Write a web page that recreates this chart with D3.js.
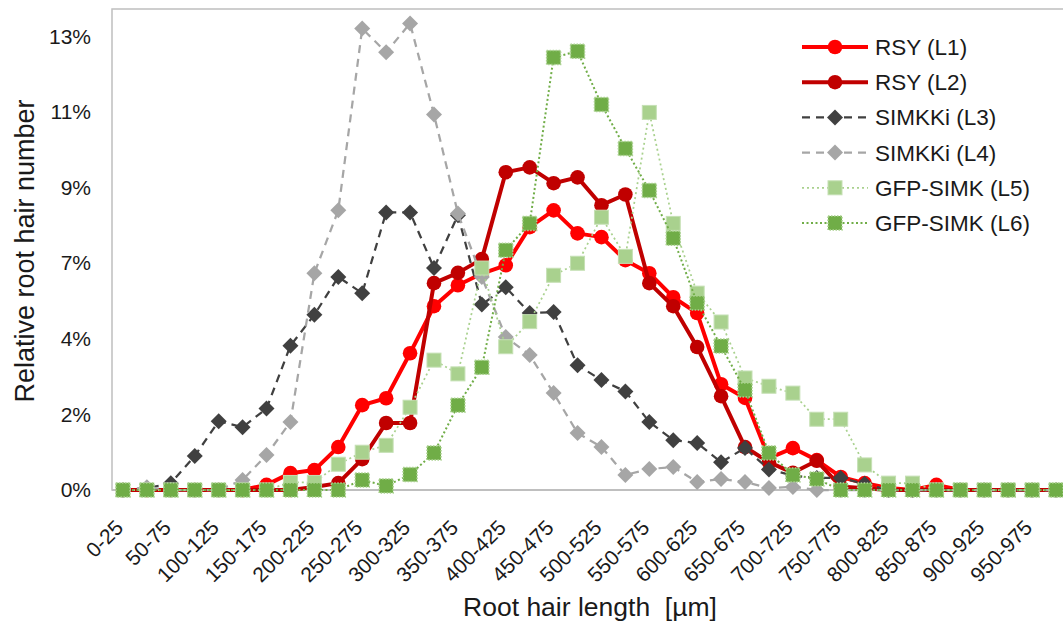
<!DOCTYPE html>
<html>
<head>
<meta charset="utf-8">
<script src="https://cdn.jsdelivr.net/npm/d3@7"></script>
<style>
  body { margin: 0; background: #fff; }
  svg { display: block; font-family: Arial, "Liberation Sans", sans-serif; }
</style>
</head>
<body>
<script>
// root hair length classes (µm)
var categories = ["0-25","25-50","50-75","75-100","100-125","125-150","150-175","175-200",
  "200-225","225-250","250-275","275-300","300-325","325-350","350-375","375-400",
  "400-425","425-450","450-475","475-500","500-525","525-550","550-575","575-600",
  "600-625","625-650","650-675","675-700","700-725","725-750","750-775","775-800",
  "800-825","825-850","850-875","875-900","900-925","925-950","950-975","975-1000"];

// relative root hair number, %
var rsyL1 = [0,0,0,0,0,0,0.15,0.49,0.58,1.25,2.47,2.67,3.98,5.35,5.96,6.3,6.54,7.65,8.14,7.47,
  7.36,6.69,6.31,5.61,5.15,3.08,2.68,0.93,1.22,0.87,0.38,0.2,0.06,0,0.15,0,0,0,0,0];
var rsyL2 = [0,0,0,0,0,0,0,0,0.09,0.2,0.9,1.95,1.95,6.02,6.32,6.72,9.25,9.39,8.93,9.1,
  8.29,8.6,6.02,5.35,4.16,2.73,1.25,0.81,0.5,0.85,0.1,0.05,0,0,0,0,0,0,0,0];
var simkkiL3 = [0,0.05,0.2,0.99,2.0,1.83,2.37,4.2,5.1,6.2,5.73,8.08,8.08,6.46,8.0,5.4,5.9,5.15,5.18,3.63,
  3.2,2.87,1.98,1.45,1.37,0.81,1.22,0.6,0.42,0.35,0.35,0.18,0,0,0,0,0,0,0,0];
var simkkiL4 = [0,0.08,0,0,0,0.29,1.02,1.98,6.31,8.14,13.43,12.74,13.58,10.93,8.05,6.2,4.45,3.93,2.82,1.66,
  1.25,0.44,0.61,0.67,0.23,0.32,0.23,0.06,0.09,0,0,0,0,0,0,0,0,0,0,0];
var gfpL5 = [0,0,0,0,0,0,0,0.22,0.22,0.75,1.1,1.3,2.41,3.78,3.38,6.46,4.17,4.9,6.25,6.6,
  7.94,6.8,10.99,7.76,5.73,4.89,3.26,3.02,2.82,2.06,2.06,0.73,0.2,0.2,0,0,0,0,0,0];
var gfpL6 = [0,0,0,0,0,0,0,0,0,0,0.29,0.12,0.45,1.08,2.47,3.57,6.98,7.76,12.59,12.77,
  11.22,9.94,8.72,7.33,5.44,4.19,2.91,1.08,0.44,0.32,0,0,0,0,0,0,0,0,0,0];

var seriesNames = ["RSY (L1)","RSY (L2)","SIMKKi (L3)","SIMKKi (L4)","GFP-SIMK (L5)","GFP-SIMK (L6)"];
var yTicks = [0, 2.2, 4.4, 6.6, 8.8, 11, 13.2];

var series = [
  { name: seriesNames[0], values: rsyL1, color: "#ff0000", width: 4, dash: null, marker: "circle", size: 7.3 },
  { name: seriesNames[1], values: rsyL2, color: "#c00000", width: 4, dash: null, marker: "circle", size: 7.3 },
  { name: seriesNames[2], values: simkkiL3, color: "#404040", width: 2.25, dash: "8,6", marker: "diamond", size: 8 },
  { name: seriesNames[3], values: simkkiL4, color: "#a6a6a6", width: 2.25, dash: "8,6", marker: "diamond", size: 8 },
  { name: seriesNames[4], values: gfpL5, color: "#a9d18e", width: 1.75, dash: "2,3", marker: "square", size: 7 },
  { name: seriesNames[5], values: gfpL6, color: "#70ad47", width: 2, dash: "2,2.5", marker: "square6", size: 7 }
];

var W = 1063, H = 623;
var plotLeft = 112, plotTop = 9, plotBottom = 490, plotRight = 1070;

var svg = d3.select("body").append("svg")
  .attr("width", W)
  .attr("height", H);

var x = d3.scalePoint()
  .domain(categories)
  .range([plotLeft - 1, plotRight - 2])
  .padding(0.5);

var y = d3.scaleLinear()
  .domain([0, 14])
  .range([plotBottom, plotTop]);

// plot border
svg.append("rect")
  .attr("x", plotLeft)
  .attr("y", plotTop)
  .attr("width", plotRight - plotLeft)
  .attr("height", plotBottom - plotTop)
  .attr("fill", "none")
  .attr("stroke", "#bfbfbf")
  .attr("stroke-width", 1.5);

svg.append("line")
  .attr("x1", plotLeft).attr("x2", plotRight)
  .attr("y1", y(0)).attr("y2", y(0))
  .attr("stroke", "#bfbfbf")
  .attr("stroke-width", 2);

// y axis labels
var yAxis = d3.axisLeft(y)
  .tickValues(yTicks)
  .tickSize(0)
  .tickPadding(0)
  .tickFormat(function(d) { return Math.round(d) + "%"; });

var gy = svg.append("g")
  .attr("transform", "translate(91,0)")
  .call(yAxis);
gy.select(".domain").remove();
gy.selectAll("text")
  .style("font-size", "21px")
  .style("fill", "#1a1a1a")
  .style("font-family", "Arial, 'Liberation Sans', sans-serif");

// x axis labels, every other category
var xAxis = d3.axisBottom(x)
  .tickValues(categories.filter(function(d, i) { return i % 2 === 0; }))
  .tickSize(0)
  .tickPadding(0);

var gx = svg.append("g")
  .attr("transform", "translate(0," + plotBottom + ")")
  .call(xAxis);
gx.select(".domain").remove();
gx.selectAll("text")
  .attr("text-anchor", "end")
  .attr("dy", null)
  .attr("y", 0)
  .attr("transform", "translate(1,39) rotate(-45)")
  .style("font-size", "21px")
  .style("fill", "#1a1a1a")
  .style("font-family", "Arial, 'Liberation Sans', sans-serif");

// axis titles
svg.append("text")
  .attr("transform", "translate(34,251) rotate(-90)")
  .attr("text-anchor", "middle")
  .style("font-size", "27px")
  .style("fill", "#1a1a1a")
  .text("Relative root hair number");

svg.append("text")
  .attr("x", 590)
  .attr("y", 616)
  .attr("text-anchor", "middle")
  .style("font-size", "26.5px")
  .style("white-space", "pre")
  .style("fill", "#1a1a1a")
  .text("Root hair length  [\u00b5m]");

function drawMarker(g, s, cx, cy) {
  var r = s.size;
  if (s.marker === "circle") {
    g.append("circle").attr("cx", cx).attr("cy", cy).attr("r", r)
      .attr("fill", s.color);
  } else if (s.marker === "diamond") {
    g.append("path")
      .attr("d", "M" + cx + "," + (cy - r) + "L" + (cx + r) + "," + cy + "L" + cx + "," + (cy + r) + "L" + (cx - r) + "," + cy + "Z")
      .attr("fill", s.color);
  } else if (s.marker === "square") {
    g.append("rect").attr("x", cx - r).attr("y", cy - r).attr("width", 2 * r).attr("height", 2 * r)
      .attr("fill", s.color).attr("stroke", "#c5e0b4").attr("stroke-width", 1);
  } else {
    g.append("rect").attr("x", cx - r).attr("y", cy - r).attr("width", 2 * r).attr("height", 2 * r)
      .attr("fill", s.color).attr("stroke", "#a9d18e").attr("stroke-width", 1.5)
      .attr("stroke-dasharray", "1.5,1.5");
  }
}

var line = d3.line()
  .x(function(d, i) { return x(categories[i]); })
  .y(function(d) { return y(d); });

series.forEach(function(s) {
  var g = svg.append("g");
  g.append("path")
    .datum(s.values)
    .attr("d", line)
    .attr("fill", "none")
    .attr("stroke", s.color)
    .attr("stroke-width", s.width)
    .attr("stroke-dasharray", s.dash)
    .attr("stroke-linejoin", "round");
  s.values.forEach(function(v, i) {
    drawMarker(g, s, x(categories[i]), y(v));
  });
});

// legend
var legend = svg.append("g");
series.forEach(function(s, i) {
  var ly = 47 + i * 35.2;
  var g = legend.append("g");
  g.append("line")
    .attr("x1", 802).attr("x2", 868)
    .attr("y1", ly).attr("y2", ly)
    .attr("stroke", s.color)
    .attr("stroke-width", s.width)
    .attr("stroke-dasharray", s.dash);
  drawMarker(g, s, 835, ly);
  g.append("text")
    .attr("x", 875)
    .attr("y", ly + 8)
    .style("font-size", "22.5px")
    .style("fill", "#1a1a1a")
    .text(s.name);
});
</script>
</body>
</html>
